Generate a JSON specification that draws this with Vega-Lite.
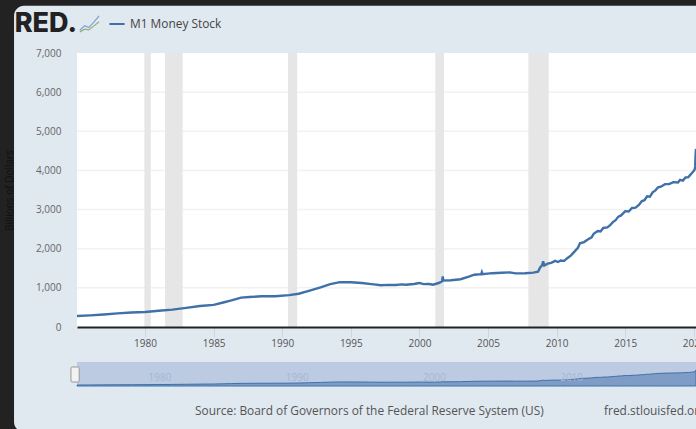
{"$schema":"https://vega.github.io/schema/vega-lite/v6.json","width":619,"height":274,"autosize":{"type":"none"},"padding":{"left":77,"top":53,"right":0,"bottom":102},"background":"#222222","config":{"font":"Open Sans","view":{"stroke":null}},
"datasets":{
"one":[{"k":1}],
"m1":[{"year":1975.04,"value":280},{"year":1976,"value":298},{"year":1977,"value":320},{"year":1978,"value":348},{"year":1979,"value":370},{"year":1980,"value":385},{"year":1981,"value":415},{"year":1982,"value":445},{"year":1983,"value":490},{"year":1984,"value":535},{"year":1985,"value":565},{"year":1985.7,"value":625},{"year":1986.3,"value":680},{"year":1987,"value":750},{"year":1987.6,"value":765},{"year":1988.5,"value":785},{"year":1989.5,"value":785},{"year":1990.5,"value":815},{"year":1991.2,"value":850},{"year":1992,"value":930},{"year":1992.8,"value":1010},{"year":1993.5,"value":1095},{"year":1994.2,"value":1145},{"year":1995,"value":1145},{"year":1995.8,"value":1125},{"year":1996.5,"value":1095},{"year":1997.2,"value":1065},{"year":1997.7,"value":1075},{"year":1998.3,"value":1072},{"year":1998.7,"value":1090},{"year":1999,"value":1080},{"year":1999.6,"value":1100},{"year":2000,"value":1125},{"year":2000.3,"value":1095},{"year":2000.7,"value":1100},{"year":2001,"value":1082},{"year":2001.45,"value":1130},{"year":2001.65,"value":1170},{"year":2001.7,"value":1290},{"year":2001.75,"value":1185},{"year":2002.3,"value":1195},{"year":2003,"value":1220},{"year":2003.6,"value":1285},{"year":2004,"value":1335},{"year":2004.5,"value":1350},{"year":2004.55,"value":1400},{"year":2004.6,"value":1350},{"year":2005.3,"value":1375},{"year":2006,"value":1385},{"year":2006.6,"value":1395},{"year":2007,"value":1370},{"year":2007.7,"value":1375},{"year":2008.3,"value":1390},{"year":2008.65,"value":1415},{"year":2008.8,"value":1520},{"year":2008.95,"value":1580},{"year":2009.02,"value":1680},{"year":2009.1,"value":1570},{"year":2009.35,"value":1620},{"year":2009.6,"value":1640},{"year":2009.9,"value":1690},{"year":2010.1,"value":1660},{"year":2010.3,"value":1700},{"year":2010.55,"value":1690},{"year":2010.8,"value":1765},{"year":2011.05,"value":1830},{"year":2011.3,"value":1924},{"year":2011.55,"value":2020},{"year":2011.7,"value":2140},{"year":2012,"value":2170},{"year":2012.3,"value":2240},{"year":2012.55,"value":2290},{"year":2012.7,"value":2380},{"year":2013,"value":2453},{"year":2013.2,"value":2440},{"year":2013.4,"value":2530},{"year":2013.7,"value":2545},{"year":2013.9,"value":2600},{"year":2014.1,"value":2680},{"year":2014.3,"value":2730},{"year":2014.5,"value":2820},{"year":2014.7,"value":2850},{"year":2015,"value":2960},{"year":2015.25,"value":2950},{"year":2015.5,"value":3040},{"year":2015.75,"value":3050},{"year":2016,"value":3117},{"year":2016.2,"value":3210},{"year":2016.4,"value":3240},{"year":2016.6,"value":3340},{"year":2016.8,"value":3330},{"year":2017,"value":3440},{"year":2017.2,"value":3490},{"year":2017.4,"value":3570},{"year":2017.6,"value":3585},{"year":2017.9,"value":3650},{"year":2018.2,"value":3650},{"year":2018.5,"value":3700},{"year":2018.85,"value":3690},{"year":2019,"value":3760},{"year":2019.2,"value":3740},{"year":2019.4,"value":3820},{"year":2019.6,"value":3830},{"year":2019.85,"value":3930},{"year":2020.05,"value":4012},{"year":2020.1,"value":4090},{"year":2020.13,"value":4400},{"year":2020.16,"value":4550}],
"rec":[{"start":1979.95,"end":1980.42},{"start":1981.46,"end":1982.74},{"start":1990.42,"end":1991.09},{"start":2001.16,"end":2001.79},{"start":2007.94,"end":2009.42}],
"grid":[{"level":1000},{"level":2000},{"level":3000},{"level":4000},{"level":5000},{"level":6000}],
"navTicks":[{"year":1980,"label":"1980"},{"year":1990,"label":"1990"},{"year":2000,"label":"2000"},{"year":2010,"label":"2010"}],
"icon":[{"x":1975.25,"v":7580,"s":"b"},{"x":1975.6,"v":7700,"s":"b"},{"x":1975.9,"v":7650,"s":"b"},{"x":1976.3,"v":7800,"s":"b"},{"x":1976.65,"v":7950,"s":"b"},{"x":1975.25,"v":7540,"s":"g"},{"x":1975.6,"v":7610,"s":"g"},{"x":1975.9,"v":7590,"s":"g"},{"x":1976.3,"v":7700,"s":"g"},{"x":1976.65,"v":7800,"s":"g"}]
},
"resolve":{"scale":{"y":"independent"}},
"layer":[
{"data":{"name":"one"},"mark":{"type":"rect","fill":"#e0e8f0","cornerRadius":10,"clip":false},"encoding":{"x":{"datum":1970.45,"type":"quantitative","scale":{"domain":[1975.04,2020.16],"nice":false},"axis":{"zindex":1,"title":null,"values":[1980,1985,1990,1995,2000,2005,2010,2015,2020],"format":"d","grid":false,"tickColor":"#cbd5e6","tickSize":10,"labelPadding":1,"labelColor":"#555555","labelFontSize":10,"labelOverlap":false,"labelBound":false,"labelFlush":false,"domainColor":"#222222","domainWidth":2}},"x2":{"datum":2023},"y":{"datum":8205,"type":"quantitative","scale":{"domain":[0,7000],"nice":false},"axis":null},"y2":{"datum":-2680}}},
{"data":{"name":"one"},"mark":{"type":"rect","fill":"#ffffff"},"encoding":{"x":{"datum":1975.04,"type":"quantitative","scale":{"domain":[1975.04,2020.16],"nice":false}},"x2":{"datum":2020.16},"y":{"datum":0,"type":"quantitative","scale":{"domain":[0,7000],"nice":false},"axis":null},"y2":{"datum":7000}}},
{"data":{"name":"grid"},"mark":{"type":"rule","stroke":"#f2f2f2","strokeWidth":1.5},"encoding":{"y":{"field":"level","type":"quantitative","scale":{"domain":[0,7000],"nice":false},"axis":null}}},
{"data":{"name":"rec"},"mark":{"type":"rect","fill":"#e6e6e6"},"encoding":{"x":{"field":"start","type":"quantitative","scale":{"domain":[1975.04,2020.16],"nice":false}},"x2":{"field":"end"},"y":{"datum":0,"type":"quantitative","scale":{"domain":[0,7000],"nice":false},"axis":null},"y2":{"datum":7000}}},
{"data":{"name":"m1"},"mark":{"type":"line","strokeWidth":2.4,"interpolate":"linear"},"encoding":{"x":{"field":"year","type":"quantitative","scale":{"domain":[1975.04,2020.16],"nice":false}},"y":{"field":"value","type":"quantitative","scale":{"domain":[0,7000],"nice":false},"axis":{"zindex":1,"title":"Billions of Dollars","titleX":-63,"titleFontSize":10,"titleFontWeight":"normal","titleColor":"#111111","values":[0,1000,2000,3000,4000,5000,6000,7000],"format":",d","grid":false,"ticks":false,"domain":false,"labelPadding":16,"labelColor":"#666666","labelFontSize":10}},"color":{"datum":"M1 Money Stock","scale":{"domain":["M1 Money Stock"],"range":["#3f70a8"]},"legend":{"title":null,"orient":"none","legendX":31,"legendY":-38,"symbolType":"stroke","symbolStrokeWidth":2,"symbolSize":230,"labelFontSize":11.9,"labelColor":"#444444","labelOffset":4}}}},
{"data":{"name":"icon"},"mark":{"type":"line","strokeWidth":1.2},"encoding":{"detail":{"field":"s"},"x":{"field":"x","type":"quantitative","scale":{"domain":[1975.04,2020.16],"nice":false}},"y":{"field":"v","type":"quantitative","scale":{"domain":[0,7000],"nice":false},"axis":null},"stroke":{"field":"s","type":"nominal","scale":{"domain":["b","g"],"range":["#7f9fcc","#93b07c"]},"legend":null}}},
{"data":{"name":"one"},"mark":{"type":"text","text":"RED.","align":"left","baseline":"middle","font":"Inter","fontSize":27,"fontWeight":800,"fill":"#222222"},"encoding":{"x":{"datum":1970.5,"type":"quantitative","scale":{"domain":[1975.04,2020.16],"nice":false}},"y":{"datum":7740,"type":"quantitative","scale":{"domain":[0,7000],"nice":false},"axis":null}}},
{"data":{"name":"one"},"mark":{"type":"text","text":"Source: Board of Governors of the Federal Reserve System (US)","align":"left","baseline":"middle","fontSize":11.9,"fill":"#555555"},"encoding":{"x":{"datum":1983.64,"type":"quantitative","scale":{"domain":[1975.04,2020.16],"nice":false}},"y":{"datum":-2146,"type":"quantitative","scale":{"domain":[0,7000],"nice":false},"axis":null}}},
{"data":{"name":"one"},"mark":{"type":"text","text":"fred.stlouisfed.org","align":"left","baseline":"middle","fontSize":11.9,"fill":"#555555"},"encoding":{"x":{"datum":2013.46,"type":"quantitative","scale":{"domain":[1975.04,2020.16],"nice":false}},"y":{"datum":-2146,"type":"quantitative","scale":{"domain":[0,7000],"nice":false},"axis":null}}},
{"data":{"name":"one"},"mark":{"type":"rect","fill":"#bccbe2"},"encoding":{"x":{"datum":1975.04,"type":"quantitative","scale":{"domain":[1975.04,2020.16],"nice":false}},"x2":{"datum":2020.16},"y":{"datum":0,"type":"quantitative","scale":{"domain":[0,6800],"nice":false,"range":[333,309]},"axis":null},"y2":{"datum":6800}}},
{"data":{"name":"m1"},"mark":{"type":"area","fill":"#7f9cc6","stroke":"#3f70a8","strokeWidth":1,"clip":false},"encoding":{"x":{"field":"year","type":"quantitative","scale":{"domain":[1975.04,2020.16],"nice":false}},"y":{"field":"value","type":"quantitative","scale":{"domain":[0,6800],"nice":false,"range":[333,309]},"axis":null}}},
{"data":{"name":"navTicks"},"mark":{"type":"text","dx":15,"fontSize":10,"fill":"#a5b6d2"},"encoding":{"text":{"field":"label"},"x":{"field":"year","type":"quantitative","scale":{"domain":[1975.04,2020.16],"nice":false}},"y":{"datum":2270,"type":"quantitative","scale":{"domain":[0,6800],"nice":false,"range":[333,309]},"axis":null}}},
{"data":{"name":"one"},"mark":{"type":"rect","fill":"#f2f2f2","stroke":"#999999","strokeWidth":1,"cornerRadius":1},"encoding":{"x":{"datum":1974.6,"type":"quantitative","scale":{"domain":[1975.04,2020.16],"nice":false}},"x2":{"datum":1975.2},"y":{"datum":1133,"type":"quantitative","scale":{"domain":[0,6800],"nice":false,"range":[333,309]},"axis":null},"y2":{"datum":5383}}}
]}
